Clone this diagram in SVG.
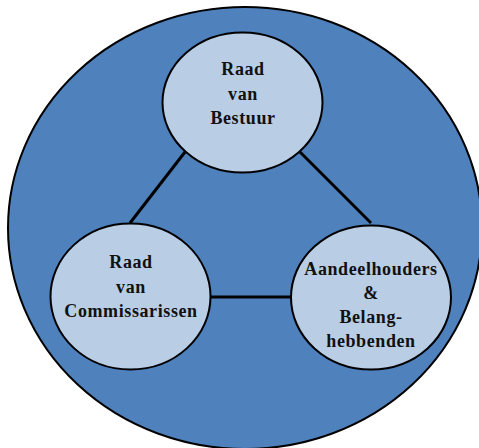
<svg xmlns="http://www.w3.org/2000/svg" width="479" height="448" viewBox="0 0 479 448">
<style>
.bg{fill:#4f81bd;stroke:#000;stroke-width:2}
.node{fill:#b9cde5;stroke:#000;stroke-width:2}
.conn{stroke:#000;stroke-width:3;fill:none}
text{font-family:"Liberation Serif","Times New Roman",serif;font-weight:bold;font-size:18px;fill:#111;text-anchor:middle;letter-spacing:0.6px}
</style>
<rect width="479" height="448" fill="#fff"/>
<ellipse class="bg" cx="245" cy="228" rx="237" ry="221"/>
<g id="connectors">
<line class="conn" x1="185" y1="152" x2="130" y2="223"/>
<line class="conn" x1="300" y1="152" x2="371" y2="223"/>
<line class="conn" x1="211" y1="297" x2="291" y2="297"/>
</g>
<g id="bestuur">
<ellipse class="node" cx="242.5" cy="102.5" rx="80" ry="70"/>
<text x="243" y="75">Raad</text>
<text x="243" y="100">van</text>
<text x="243" y="124">Bestuur</text>
</g>
<g id="commissarissen">
<ellipse class="node" cx="130.5" cy="296.5" rx="80" ry="73"/>
<text x="131" y="268">Raad</text>
<text x="131" y="293">van</text>
<text x="131" y="317">Commissarissen</text>
</g>
<g id="aandeelhouders">
<ellipse class="node" cx="371" cy="297.5" rx="80" ry="72"/>
<text x="371" y="275">Aandeelhouders</text>
<text x="371" y="299">&amp;</text>
<text x="371" y="323">Belang-</text>
<text x="371" y="347">hebbenden</text>
</g>
</svg>
